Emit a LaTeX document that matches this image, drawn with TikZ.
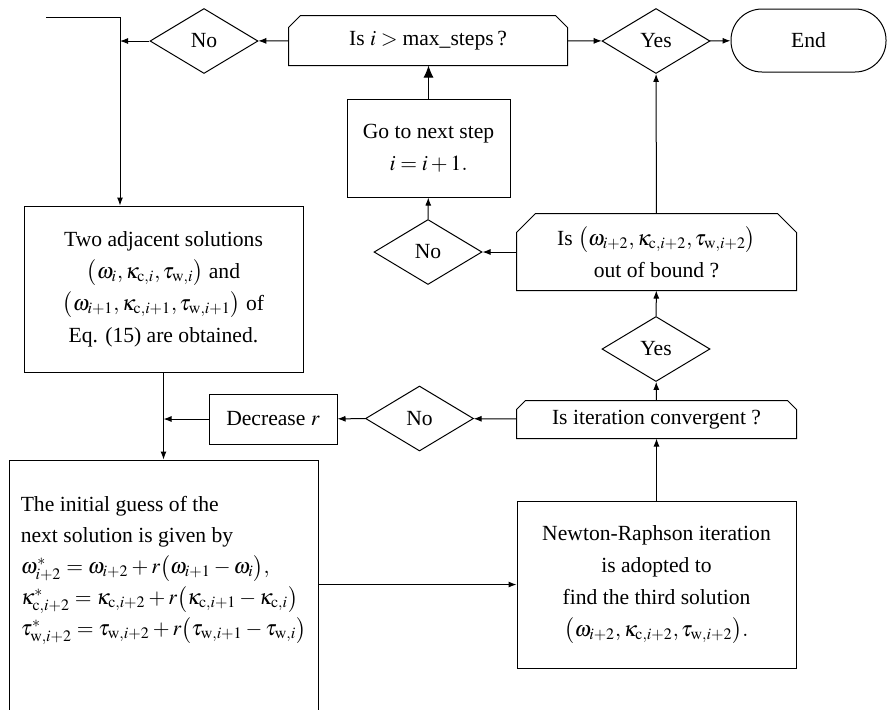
\documentclass[tikz,border=0pt]{standalone}
\usepackage{mathptmx}
\usepackage{fontspec}
\setmainfont{Liberation Serif}
\usepackage{tikz}
\usetikzlibrary{shapes.geometric,arrows.meta}

\newcommand{\cc}{\mathrm{c}}
\newcommand{\ww}{\mathrm{w}}

\begin{document}
\begin{tikzpicture}[x=0.5pt,y=-0.5pt,->,>={Latex[length=4pt,width=3pt]},
                    line width=0.5pt,font=\fontsize{10.8}{16}\selectfont,
                    box/.style={draw,rectangle,inner sep=2pt,align=center},
                    cutbox/.style={rectangle,inner sep=2pt,align=center},
                    choice/.style={draw,diamond,aspect=1.66,inner sep=0pt,
                                   minimum width=54pt,minimum height=32.5pt},
                    big arrow/.style={-{Latex[length=6pt,width=5pt]}}]
  \useasboundingbox (0,0) rectangle (888,709);

  \coordinate (start) at (46,17);
  \coordinate (bend) at (120,17);

  \node[cutbox,minimum width=139pt,minimum height=24.5pt] (maxq) at (428,40.5)
       {Is $i>{}$max\_steps\,?};
  \node[choice] (no1) at (204,41) {No};
  \node[choice] (yes1) at (656,41) {Yes};
  \node[draw,rounded corners=15.5pt,minimum width=77.5pt,minimum height=31.5pt] (stop)
       at (808.5,40.5) {End};
  \node[box,minimum width=81.5pt,minimum height=49pt] (next) at (428.5,148)
       {Go to next step\\ $i=i+1.$};
  \node[choice] (no2) at (428,252) {No};
  \node[cutbox,minimum width=139.5pt,minimum height=38pt] (boundq) at (656.5,252)
       {Is $\bigl(\omega_{i+2},\kappa_{\cc,i+2},\tau_{\ww,i+2}\bigr)$\\ out of bound ?};
  \node[choice] (yes2) at (656,349) {Yes};
  \node[cutbox,minimum width=139.5pt,minimum height=18.5pt] (convq) at (656.5,419.5)
       {Is iteration convergent ?};
  \node[box,minimum width=139.5pt,minimum height=83.5pt] (newton) at (656.5,584.5)
       {Newton-Raphson iteration\\ is adopted to\\ find the third solution\\
        $\bigl(\omega_{i+2},\kappa_{\cc,i+2},\tau_{\ww,i+2}\bigr).$};
  \node[choice] (no3) at (419.5,418.5) {No};
  \node[box,minimum width=64pt,minimum height=25pt] (decr) at (273,419) {Decrease $r$};
  \node[box,minimum width=139.5pt,minimum height=83pt] (adj) at (163.5,289)
       {Two adjacent solutions\\ $\bigl(\omega_i,\kappa_{\cc,i},\tau_{\ww,i}\bigr)$ and\\
        $\bigl(\omega_{i+1},\kappa_{\cc,i+1},\tau_{\ww,i+1}\bigr)$ of\\ Eq. (15) are obtained.};
  \node[box,align=left,minimum width=154.5pt,minimum height=127.5pt,
        font=\fontsize{10.8}{15.5}\selectfont] (guess) at (163.5,587.5)
       {The initial guess of the\\ next solution is given by\\
        $\omega^*_{i+2}=\omega_{i+2}+r\bigl(\omega_{i+1}-\omega_i\bigr),$\\
        $\kappa^*_{\cc,i+2}=\kappa_{\cc,i+2}+r\bigl(\kappa_{\cc,i+1}-\kappa_{\cc,i}\bigr)$\\
        $\tau^*_{\ww,i+2}=\tau_{\ww,i+2}+r\bigl(\tau_{\ww,i+1}-\tau_{\ww,i}\bigr)$\\[6pt]};

  % boxes with cut top corners
  \foreach \nm/\ch in {maxq/6pt,boundq/9.5pt,convq/4.5pt}
    \draw[-] (\nm.south west) -- ([yshift=-\ch]\nm.north west) -- ([xshift=\ch]\nm.north west)
      -- ([xshift=-\ch]\nm.north east) -- ([yshift=-\ch]\nm.north east) -- (\nm.south east) -- cycle;

  \draw (maxq) -- (no1);
  \draw (no1) -- (no1.west -| bend);
  \draw (start) -- (bend) -- (bend |- adj.north);
  \draw (maxq) -- (yes1);
  \draw (yes1) -- (stop);
  \draw[big arrow] (next) -- (next.north |- maxq.south);
  \draw (no2) -- (next);
  \draw (boundq) -- (no2);
  \draw (boundq) -- (yes1);
  \draw (yes2) -- (boundq);
  \draw (convq) -- (yes2);
  \draw (newton) -- (convq);
  \draw (convq) -- (no3);
  \draw (no3) -- (decr);
  \draw (decr) -- (decr.west -| adj.south);
  \draw (adj) -- (guess);
  \draw (newton.west -| guess.east) -- (newton);
\end{tikzpicture}
\end{document}
